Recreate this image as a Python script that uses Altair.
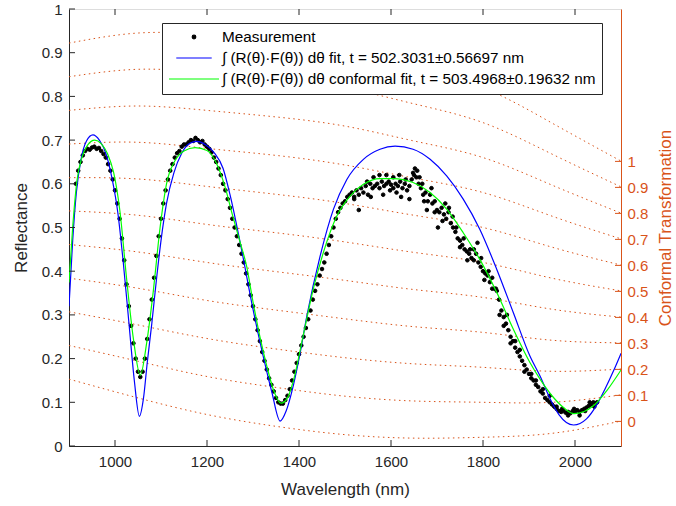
import altair as alt
import pandas as pd

FONT = "Liberation Sans"
AX = "#262626"
OR = "#D95319"

# ---------------- data ----------------
x_ticks = [1000, 1200, 1400, 1600, 1800, 2000]
y_ticks = [0, 0.1, 0.2, 0.3, 0.4, 0.5, 0.6, 0.7, 0.8, 0.9, 1]
c_ticks = [0, 0.1, 0.2, 0.3, 0.4, 0.5, 0.6, 0.7, 0.8, 0.9, 1]

LABELS = [
    "Measurement",
    "\u222b (R(\u03b8)\u00b7F(\u03b8)) d\u03b8 fit, t = 502.3031\u00b10.56697 nm",
    "\u222b (R(\u03b8)\u00b7F(\u03b8)) d\u03b8 conformal fit, t = 503.4968\u00b10.19632 nm",
]
SERIES_COLORS = ["#000000", "#0000ff", "#00ff00"]

blue_wl = [900, 908, 916, 926, 938, 952, 966, 980, 994, 1006,
           1018, 1030, 1042, 1053, 1062, 1070, 1080, 1090, 1100, 1112,
           1128, 1145, 1162, 1178, 1196, 1215, 1235, 1250, 1275, 1300,
           1322, 1341, 1359, 1372, 1388, 1402, 1417, 1446, 1475, 1504,
           1540, 1576, 1609, 1648, 1685, 1721, 1757, 1793, 1830, 1866,
           1902, 1924, 1945, 1965, 1997, 2025, 2045, 2065, 2085, 2100]
blue_r = [0.32, 0.47, 0.58, 0.655, 0.698, 0.712, 0.70, 0.67, 0.61, 0.535,
          0.42, 0.285, 0.15, 0.068, 0.11, 0.19, 0.28, 0.38, 0.47, 0.555,
          0.625, 0.67, 0.692, 0.697, 0.69, 0.672, 0.635, 0.575, 0.45, 0.313,
          0.206, 0.123, 0.057, 0.08, 0.14, 0.21, 0.297, 0.435, 0.542, 0.61,
          0.656, 0.679, 0.686, 0.679, 0.656, 0.618, 0.565, 0.496, 0.404, 0.305,
          0.206, 0.16, 0.11, 0.072, 0.048, 0.062, 0.09, 0.13, 0.175, 0.212]

green_wl = [900, 908, 917, 928, 940, 956, 970, 984, 997, 1011,
            1025, 1040, 1055, 1069, 1083, 1098, 1112, 1130, 1150, 1174,
            1200, 1220, 1240, 1255, 1272, 1286, 1300, 1315, 1330, 1344,
            1361, 1375, 1388, 1409, 1431, 1453, 1482, 1511, 1540, 1576,
            1604, 1648, 1685, 1721, 1757, 1793, 1830, 1866, 1902, 1924,
            1950, 1975, 1997, 2020, 2040, 2070, 2100]
green_r = [0.374, 0.50, 0.605, 0.66, 0.688, 0.70, 0.692, 0.668, 0.626, 0.535,
           0.385, 0.245, 0.162, 0.237, 0.352, 0.50, 0.60, 0.652, 0.675, 0.683,
           0.676, 0.648, 0.59, 0.53, 0.466, 0.412, 0.33, 0.25, 0.183, 0.13,
           0.098, 0.11, 0.15, 0.252, 0.359, 0.443, 0.526, 0.572, 0.599, 0.612,
           0.612, 0.603, 0.58, 0.542, 0.488, 0.427, 0.351, 0.267, 0.191, 0.153,
           0.115, 0.088, 0.074, 0.079, 0.092, 0.128, 0.174]

# measurement, one value every 5 nm starting at 915 nm
meas_start = 915
meas_r = [
    0.60, 0.63, 0.65, 0.665, 0.675, 0.68, 0.678, 0.683, 0.685, 0.68,
    0.682, 0.675, 0.668, 0.66, 0.645, 0.63, 0.61, 0.585, 0.555, 0.52,
    0.475, 0.425, 0.37, 0.32, 0.275, 0.235, 0.2, 0.17, 0.158, 0.17,
    0.2, 0.245, 0.29, 0.335, 0.385, 0.435, 0.48, 0.52, 0.555, 0.585,
    0.61, 0.63, 0.645, 0.66, 0.67, 0.675, 0.685, 0.69, 0.69, 0.695,
    0.7, 0.698, 0.705, 0.7, 0.695, 0.698, 0.69, 0.685, 0.68, 0.672,
    0.66, 0.65, 0.635, 0.62, 0.6, 0.585, 0.565, 0.545, 0.52, 0.5,
    0.48, 0.46, 0.44, 0.42, 0.395, 0.37, 0.345, 0.32, 0.29, 0.265,
    0.24, 0.215, 0.195, 0.175, 0.155, 0.14, 0.125, 0.11, 0.1, 0.097,
    0.097, 0.105, 0.115, 0.13, 0.15, 0.17, 0.19, 0.21, 0.23, 0.25,
    0.27, 0.29, 0.31, 0.335, 0.355, 0.37, 0.39, 0.405, 0.42, 0.44,
    0.46, 0.48, 0.5, 0.52, 0.535, 0.545, 0.555, 0.56, 0.57, 0.575,
    0.58, 0.57, 0.585, 0.575, 0.59, 0.58, 0.595, 0.575, 0.6, 0.59,
    0.595, 0.6, 0.59, 0.605, 0.595, 0.6, 0.605, 0.598, 0.59, 0.6,
    0.595, 0.605, 0.59, 0.6, 0.585, 0.595, 0.61, 0.62, 0.615, 0.6,
    0.59, 0.575, 0.58, 0.56, 0.575, 0.555, 0.56, 0.54, 0.535, 0.545,
    0.53, 0.52, 0.535, 0.51, 0.5, 0.49, 0.475, 0.47, 0.46, 0.45,
    0.445, 0.44, 0.43, 0.425, 0.44, 0.42, 0.41, 0.4, 0.395, 0.39,
    0.375, 0.36, 0.36, 0.355, 0.335, 0.31, 0.295, 0.28, 0.265, 0.25,
    0.24, 0.225, 0.215, 0.205, 0.195, 0.185, 0.175, 0.165, 0.155, 0.15,
    0.14, 0.135, 0.125, 0.12, 0.11, 0.105, 0.1, 0.095, 0.09, 0.085,
    0.08, 0.078, 0.08, 0.076, 0.078, 0.075, 0.08, 0.078, 0.082, 0.078,
    0.082, 0.085, 0.088, 0.092, 0.095, 0.1, 0.098,
]
# additional scattered measurement points in the noisy band
extra_wl = [1520, 1530, 1548, 1556, 1562, 1575, 1583, 1590, 1598, 1605, 1612, 1618, 1622,
            1632, 1640, 1648, 1652, 1657, 1662, 1668, 1672, 1678, 1688, 1695, 1702, 1712,
            1718, 1726, 1734, 1742, 1750, 1758, 1766, 1772, 1780, 1788, 1796, 1803, 1812,
            1820, 1828, 1836, 1845, 1852, 1860, 1870, 1880, 1890, 1905, 1915, 1930, 1945,
            1960, 1972, 1985, 1998, 2010, 2022, 2032, 2042, 2048]
extra_r = [0.565, 0.54, 0.605, 0.57, 0.615, 0.62, 0.575, 0.62, 0.585, 0.615, 0.58, 0.62, 0.57,
           0.61, 0.565, 0.625, 0.635, 0.63, 0.615, 0.6, 0.56, 0.54, 0.59, 0.535, 0.5, 0.515,
           0.555, 0.545, 0.525, 0.5, 0.455, 0.475, 0.425, 0.45, 0.45, 0.465, 0.43, 0.38, 0.4,
           0.385, 0.36, 0.3, 0.275, 0.3, 0.235, 0.24, 0.22, 0.17, 0.165, 0.15, 0.13, 0.115,
           0.09, 0.085, 0.07, 0.085, 0.07, 0.08, 0.1, 0.09, 0.1]

# conformal-transformation iso-lines (reflectance value of each level along wavelength)
conf_wl = [900, 1050, 1200, 1350, 1500, 1650, 1800, 1950, 2100]
conf_levels = {
    "0": [0.153, 0.110, 0.072, 0.045, 0.026, 0.018, 0.020, 0.029, 0.057],
    "0.1": [0.230, 0.194, 0.159, 0.134, 0.114, 0.103, 0.100, 0.100, 0.117],
    "0.2": [0.307, 0.277, 0.246, 0.222, 0.202, 0.188, 0.180, 0.171, 0.176],
    "0.3": [0.384, 0.361, 0.333, 0.311, 0.291, 0.273, 0.260, 0.242, 0.236],
    "0.4": [0.461, 0.444, 0.420, 0.399, 0.379, 0.358, 0.340, 0.313, 0.295],
    "0.5": [0.538, 0.528, 0.507, 0.488, 0.467, 0.443, 0.420, 0.384, 0.355],
    "0.6": [0.614, 0.611, 0.594, 0.576, 0.555, 0.528, 0.500, 0.455, 0.414],
    "0.7": [0.691, 0.695, 0.681, 0.665, 0.643, 0.613, 0.580, 0.526, 0.474],
    "0.8": [0.768, 0.778, 0.768, 0.753, 0.732, 0.698, 0.660, 0.597, 0.533],
    "0.9": [0.845, 0.862, 0.855, 0.842, 0.820, 0.783, 0.740, 0.668, 0.593],
    "1": [0.922, 0.945, 0.942, 0.930, 0.908, 0.868, 0.820, 0.739, 0.652],
}

# ---------------- tables ----------------
meas_wl = [meas_start + 5 * i for i in range(len(meas_r))]
dots_df = pd.DataFrame({
    "wl": meas_wl + extra_wl,
    "r": meas_r + extra_r,
    "series": [LABELS[0]] * (len(meas_r) + len(extra_r)),
})
blue_df = pd.DataFrame({"wl": blue_wl, "r": blue_r})
green_df = pd.DataFrame({"wl": green_wl, "r": green_r})
conf_rows = []
for lev, vals in conf_levels.items():
    for w, v in zip(conf_wl, vals):
        conf_rows.append({"wl": w, "r": v, "level": lev})
conf_df = pd.DataFrame(conf_rows)

W, H = 552, 437

xs = alt.Scale(domain=[900, 2100], nice=False, zero=False)
ys = alt.Scale(domain=[0, 1], nice=False, zero=False)
cs = alt.Scale(domain=[-0.0946, 1.586], nice=False, zero=False)

x_axis = alt.Axis(values=x_ticks, format="d", title="Wavelength (nm)", tickSize=0,
                  labelPadding=8, grid=False, domainColor=AX, labelColor=AX,
                  titleColor=AX, labelFontSize=15, titleFontSize=17,
                  titleFontWeight="normal", titlePadding=12, labelFont=FONT,
                  titleFont=FONT, labelFlush=False)
y_axis = alt.Axis(values=y_ticks, format="~g", title="Reflectance", tickSize=0,
                  labelPadding=7, grid=False, domainColor=AX, labelColor=AX,
                  titleColor=AX, labelFontSize=15, titleFontSize=17,
                  titleFontWeight="normal", titlePadding=11, labelFont=FONT,
                  titleFont=FONT, labelFlush=False)
c_axis = alt.Axis(values=c_ticks, format="~g", title="Conformal Transformation",
                  orient="right", tickSize=0, labelPadding=6, grid=False,
                  domainColor=OR, labelColor=OR, titleColor=OR, labelFontSize=15,
                  titleFontSize=17, titleFontWeight="normal", titlePadding=27,
                  labelFont=FONT, titleFont=FONT, labelFlush=False, titleAngle=270)

legend = alt.Legend(
    title=None, orient="none", legendX=93, legendY=14, fillColor="white",
    strokeColor=AX, padding=6, symbolSize=2500, symbolFillColor="#000000",
    symbolStrokeWidth=1.2, labelFontSize=15.3, labelFont=FONT, labelColor="#000000",
    labelLimit=700, labelOffset=2, clipHeight=16, rowPadding=4, symbolOpacity=1,
)

X = alt.X("wl:Q", scale=xs, axis=x_axis)
Y = alt.Y("r:Q", scale=ys, axis=y_axis)

conf = alt.Chart(conf_df).mark_line(
    color=OR, strokeDash=[1.5, 3.5], strokeWidth=1, interpolate="natural", clip=True
).encode(x=X, y=Y, detail="level:N")

dots = alt.Chart(dots_df).mark_point(filled=False, fill="#000000", strokeWidth=1, opacity=1, clip=True).encode(
    x=X, y=Y,
    color=alt.Color("series:N", scale=alt.Scale(domain=LABELS, range=SERIES_COLORS), legend=legend),
    shape=alt.Shape("series:N", scale=alt.Scale(domain=LABELS, range=["circle", "stroke", "stroke"]), legend=legend),
    size=alt.Size("series:N", scale=alt.Scale(domain=LABELS, range=[13, 2500, 2500]), legend=legend),
)

blue = alt.Chart(blue_df).mark_line(color="#0000ff", strokeWidth=1.2, interpolate="monotone", clip=True).encode(x=X, y=Y)
green = alt.Chart(green_df).mark_line(color="#00ff00", strokeWidth=1.2, interpolate="monotone", clip=True).encode(x=X, y=Y)

xt_df = pd.DataFrame({"wl": x_ticks})
yt_df = pd.DataFrame({"r": y_ticks})
bottom_ticks = alt.Chart(xt_df).mark_rule(color=AX).encode(x=X, y=alt.value(H), y2=alt.value(H - 6))
top_ticks = alt.Chart(xt_df).mark_rule(color=AX).encode(x=X, y=alt.value(0), y2=alt.value(6))
left_ticks = alt.Chart(yt_df).mark_rule(color=AX).encode(y=Y, x=alt.value(0), x2=alt.value(6))

left = alt.layer(conf, dots, blue, green, bottom_ticks, top_ticks, left_ticks)

right_ticks = alt.Chart(pd.DataFrame({"c": c_ticks})).mark_rule(color=OR).encode(
    y=alt.Y("c:Q", scale=cs, axis=c_axis), x=alt.value(W), x2=alt.value(W - 6)
)

chart = alt.layer(left, right_ticks).resolve_scale(y="independent").properties(
    width=W, height=H,
    padding={"left": 69, "top": 9, "right": 55, "bottom": 60},
    autosize=alt.AutoSizeParams(type="none"),
).configure_view(stroke=AX, strokeWidth=1).configure(font=FONT, background="white")

chart.save("out.html", embed_options={"renderer": "svg", "actions": False})
